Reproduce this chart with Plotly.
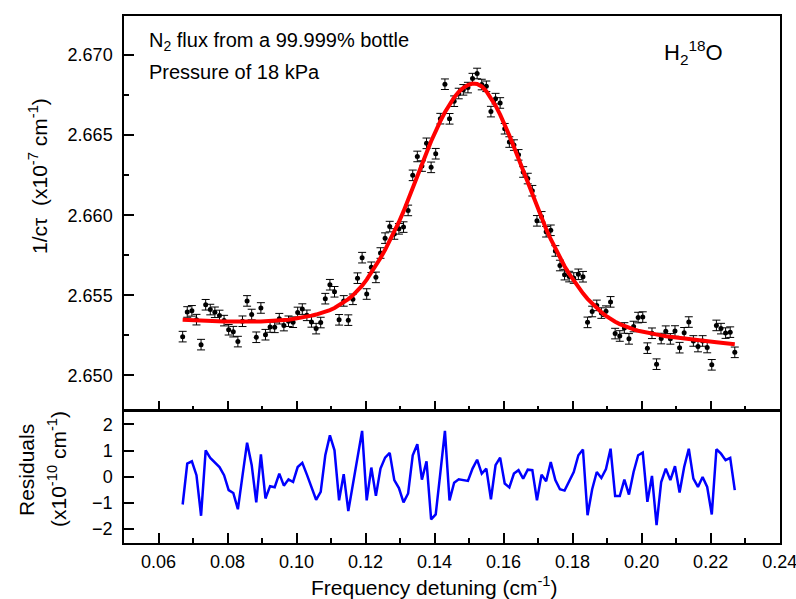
import plotly.graph_objects as go

# Frequency detuning (cm^-1)
detuning = [
    0.06700, 0.06833, 0.06967, 0.07100, 0.07233, 0.07367, 0.07500, 0.07633, 0.07767,
    0.07900, 0.08033, 0.08167, 0.08300, 0.08433, 0.08567, 0.08700, 0.08833, 0.08967,
    0.09100, 0.09233, 0.09367, 0.09500, 0.09633, 0.09767, 0.09900, 0.10033, 0.10167,
    0.10300, 0.10433, 0.10567, 0.10700, 0.10833, 0.10967, 0.11100, 0.11233, 0.11367,
    0.11500, 0.11633, 0.11767, 0.11900, 0.12033, 0.12167, 0.12300, 0.12433, 0.12567,
    0.12700, 0.12833, 0.12967, 0.13100, 0.13233, 0.13367, 0.13500, 0.13633, 0.13767,
    0.13900, 0.14033, 0.14167, 0.14300, 0.14433, 0.14567, 0.14700, 0.14833, 0.14967,
    0.15100, 0.15233, 0.15367, 0.15500, 0.15633, 0.15767, 0.15900, 0.16033, 0.16167,
    0.16300, 0.16433, 0.16567, 0.16700, 0.16833, 0.16967, 0.17100, 0.17233, 0.17367,
    0.17500, 0.17633, 0.17767, 0.17900, 0.18033, 0.18167, 0.18300, 0.18433, 0.18567,
    0.18700, 0.18833, 0.18967, 0.19100, 0.19233, 0.19367, 0.19500, 0.19633, 0.19767,
    0.19900, 0.20033, 0.20167, 0.20300, 0.20433, 0.20567, 0.20700, 0.20833, 0.20967,
    0.21100, 0.21233, 0.21367, 0.21500, 0.21633, 0.21767, 0.21900, 0.22033, 0.22167,
    0.22300, 0.22433, 0.22567, 0.22700,
]

# Measured 1/(c tau) (x1e-7 cm^-1)
signal = [
    2.65242, 2.65396, 2.65403, 2.65348, 2.65192, 2.65441, 2.65411, 2.65394, 2.65374,
    2.65342, 2.65285, 2.65273, 2.65211, 2.65338, 2.65465, 2.65380, 2.65238, 2.65421,
    2.65254, 2.65302, 2.65300, 2.65354, 2.65311, 2.65338, 2.65332, 2.65393, 2.65414,
    2.65375, 2.65334, 2.65292, 2.65330, 2.65479, 2.65566, 2.65522, 2.65347, 2.65465,
    2.65345, 2.65475, 2.65607, 2.65735, 2.65508, 2.65675, 2.65612, 2.65764, 2.65857,
    2.65929, 2.65883, 2.65915, 2.65926, 2.66030, 2.66249, 2.66367, 2.66307, 2.66449,
    2.66299, 2.66384, 2.66603, 2.66818, 2.66602, 2.66712, 2.66760, 2.66783, 2.66797,
    2.66853, 2.66885, 2.66816, 2.66805, 2.66647, 2.66728, 2.66701, 2.66540, 2.66457,
    2.66438, 2.66377, 2.66270, 2.66229, 2.66153, 2.65965, 2.65990, 2.65897, 2.65906,
    2.65777, 2.65686, 2.65629, 2.65617, 2.65608, 2.65631, 2.65616, 2.65331, 2.65399,
    2.65437, 2.65389, 2.65401, 2.65459, 2.65261, 2.65246, 2.65296, 2.65228, 2.65305,
    2.65361, 2.65364, 2.65170, 2.65263, 2.65070, 2.65230, 2.65276, 2.65228, 2.65277,
    2.65173, 2.65266, 2.65333, 2.65215, 2.65180, 2.65215, 2.65174, 2.65066, 2.65312,
    2.65292, 2.65264, 2.65270, 2.65144,
]

# Fitted profile (x1e-7 cm^-1)
fit = [
    2.65348, 2.65346, 2.65344, 2.65342, 2.65341, 2.65340, 2.65339, 2.65338, 2.65337,
    2.65336, 2.65336, 2.65335, 2.65335, 2.65335, 2.65335, 2.65335, 2.65336, 2.65336,
    2.65337, 2.65338, 2.65340, 2.65342, 2.65345, 2.65348, 2.65352, 2.65356, 2.65361,
    2.65367, 2.65373, 2.65380, 2.65388, 2.65397, 2.65408, 2.65421, 2.65437, 2.65455,
    2.65476, 2.65500, 2.65527, 2.65560, 2.65598, 2.65640, 2.65685, 2.65733, 2.65784,
    2.65838, 2.65896, 2.65958, 2.66024, 2.66094, 2.66167, 2.66243, 2.66318, 2.66390,
    2.66462, 2.66528, 2.66588, 2.66643, 2.66692, 2.66735, 2.66770, 2.66796, 2.66813,
    2.66822, 2.66820, 2.66804, 2.66774, 2.66733, 2.66684, 2.66628, 2.66566, 2.66498,
    2.66426, 2.66352, 2.66277, 2.66202, 2.66128, 2.66055, 2.65982, 2.65914, 2.65850,
    2.65790, 2.65734, 2.65682, 2.65634, 2.65590, 2.65549, 2.65512, 2.65478, 2.65447,
    2.65419, 2.65394, 2.65372, 2.65352, 2.65335, 2.65320, 2.65307, 2.65296, 2.65287,
    2.65279, 2.65272, 2.65266, 2.65260, 2.65255, 2.65250, 2.65245, 2.65241, 2.65237,
    2.65233, 2.65229, 2.65226, 2.65222, 2.65219, 2.65216, 2.65213, 2.65210, 2.65207,
    2.65204, 2.65201, 2.65198, 2.65195,
]

# Residuals (x1e-10 cm^-1)
residuals = [
    -1.06, 0.50, 0.59, 0.06, -1.49, 1.01, 0.72, 0.56, 0.37,
    0.06, -0.51, -0.62, -1.24, 0.03, 1.30, 0.45, -0.98, 0.85,
    -0.83, -0.36, -0.40, 0.12, -0.34, -0.10, -0.20, 0.37, 0.53,
    0.08, -0.39, -0.88, -0.58, 0.82, 1.58, 1.01, -0.90, 0.10,
    -1.31, -0.25, 0.80, 1.75, -0.90, 0.35, -0.73, 0.31, 0.73,
    0.91, -0.13, -0.43, -0.98, -0.64, 0.82, 1.24, -0.11, 0.59,
    -1.63, -1.44, 0.15, 1.75, -0.90, -0.23, -0.10, -0.13, -0.16,
    0.31, 0.65, 0.12, 0.31, -0.86, 0.44, 0.73, -0.26, -0.41,
    0.12, 0.25, -0.07, 0.27, 0.25, -0.90, 0.08, -0.17, 0.56,
    -0.13, -0.48, -0.53, -0.17, 0.18, 0.82, 1.04, -1.47, -0.48,
    0.18, -0.05, 0.29, 1.07, -0.74, -0.74, -0.11, -0.68, 0.18,
    0.82, 0.92, -0.96, 0.03, -1.85, -0.20, 0.31, -0.13, 0.40,
    -0.60, 0.37, 1.07, -0.07, -0.39, -0.01, -0.39, -1.44, 1.05,
    0.88, 0.63, 0.72, -0.51,
]

error_bar = 0.00033

x_ticks = [0.06, 0.08, 0.10, 0.12, 0.14, 0.16, 0.18, 0.20, 0.22, 0.24]
y_ticks = [2.650, 2.655, 2.660, 2.665, 2.670]
res_ticks = [-2, -1, 0, 1, 2]

FONT = "Liberation Sans, Arial, sans-serif"

fig = go.Figure()
fig.add_trace(go.Scatter(
    x=detuning, y=signal, mode="markers",
    marker=dict(color="black", size=5),
    error_y=dict(type="constant", value=error_bar, color="black", thickness=1, width=4),
    xaxis="x", yaxis="y", showlegend=False,
))
fig.add_trace(go.Scatter(
    x=detuning, y=fit, mode="lines",
    line=dict(color="#ff0000", width=4),
    xaxis="x", yaxis="y", showlegend=False,
))
fig.add_trace(go.Scatter(
    x=detuning, y=residuals, mode="lines",
    line=dict(color="#0000ff", width=2.5),
    xaxis="x2", yaxis="y2", showlegend=False,
))

axis_common = dict(
    showline=True, linecolor="black", linewidth=1.5, mirror=True,
    showgrid=False, zeroline=False, ticks="inside", tickcolor="black",
    tickwidth=1.5, tickfont=dict(family=FONT, size=18, color="black"),
    automargin=False,
)
x_common = dict(
    range=[0.05, 0.2401], tickvals=x_ticks, tickformat=".2f", ticklen=10,
    ticklabeloverflow="allow",
    minor=dict(dtick=0.01, tick0=0, ticks="inside", ticklen=5,
               tickwidth=1.5, tickcolor="black", showgrid=False),
)

fig.update_layout(
    width=796, height=599,
    margin=dict(l=124, r=16, t=16, b=56, autoexpand=False),
    paper_bgcolor="white", plot_bgcolor="white",
    font=dict(family=FONT, color="black"),
    xaxis=dict(domain=[0, 1], anchor="y", showticklabels=False,
               **x_common, **axis_common),
    yaxis=dict(domain=[0.2515, 1], anchor="x", range=[2.64781, 2.67244],
               tickvals=y_ticks, tickformat=".3f", ticklen=10,
               ticklabelstandoff=6,
               minor=dict(dtick=0.0025, tick0=2.65, ticks="inside", ticklen=5,
                          tickwidth=1.5, tickcolor="black", showgrid=False),
               **axis_common),
    xaxis2=dict(domain=[0, 1], anchor="y2", ticklabelstandoff=2,
                **x_common, **axis_common),
    yaxis2=dict(domain=[0, 0.25], anchor="x2", range=[-2.53, 2.5],
                tickvals=res_ticks, ticklen=10, ticklabelstandoff=6,
                **axis_common),
)

def px(xp):
    return (xp - 124) / 656

def py(yp):
    return (543 - yp) / 527

annotations = [
    dict(text="N<sub>2</sub> flux from a 99.999% bottle", x=px(147), y=py(41),
         xanchor="left", yanchor="middle", font=dict(size=20)),
    dict(text="Pressure of 18 kPa", x=px(147), y=py(72),
         xanchor="left", yanchor="middle", font=dict(size=20)),
    dict(text="H<sub>2</sub><sup>18</sup>O", x=px(662), y=py(53),
         xanchor="left", yanchor="middle", font=dict(size=22)),
    dict(text="1/cτ  (x10<sup>-7</sup> cm<sup>-1</sup>)", x=px(38), y=py(176),
         xanchor="center", yanchor="middle", textangle=-90, font=dict(size=21)),
    dict(text="Residuals", x=px(26), y=py(470),
         xanchor="center", yanchor="middle", textangle=-90, font=dict(size=21)),
    dict(text="(x10<sup>-10</sup> cm<sup>-1</sup>)", x=px(57), y=py(469),
         xanchor="center", yanchor="middle", textangle=-90, font=dict(size=21)),
    dict(text="Frequency detuning (cm<sup>-1</sup>)", x=px(434), y=py(586),
         xanchor="center", yanchor="middle", font=dict(size=21)),
]
for a in annotations:
    a.update(xref="paper", yref="paper", showarrow=False)
    a["font"].update(family=FONT, color="black")
fig.update_layout(annotations=annotations)

fig.write_html("out.html")
